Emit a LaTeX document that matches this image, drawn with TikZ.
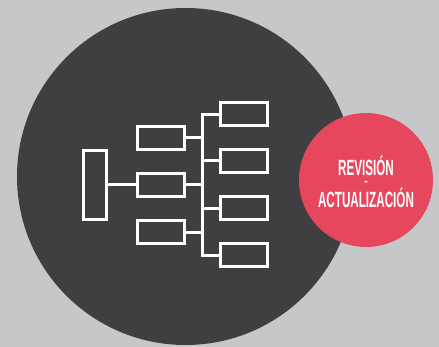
\documentclass[tikz,border=0pt]{standalone}
\usepackage{fontspec}
\setmainfont{Liberation Sans}
\usepackage{graphicx}
\definecolor{bggray}{RGB}{198,199,201}
\definecolor{darkc}{RGB}{63,62,65}
\definecolor{redc}{RGB}{230,71,92}
\begin{document}
\begin{tikzpicture}[x=1pt,y=-1pt,
  box/.style={draw=white,line width=3pt,minimum width=47pt,minimum height=23pt,inner sep=0pt,outer sep=0pt},
  conn/.style={draw=white,line width=3pt},
  lbl/.style={text=white,inner sep=0pt,align=center,font=\bfseries\fontsize{22}{22}\selectfont}]
\fill[bggray] (0,0) rectangle (439,347);
\useasboundingbox (0,0) rectangle (439,347);
\fill[darkc] (185.5,176.5) circle[radius=168.5];
% tree
\node[box,minimum width=23pt,minimum height=69pt] (L) at (95,185) {};
\node[box] (M1) at (161,138) {};
\node[box] (M2) at (161,185) {};
\node[box] (M3) at (161,232.5) {};
\node[box] (R1) at (244,114.5) {};
\node[box] (R2) at (244,161) {};
\node[box] (R3) at (244,208.5) {};
\node[box] (R4) at (244,255.5) {};
\coordinate (bus) at (202,0);
\draw[conn] (L.east) -- (M2.west);
\draw[conn] (R1.west) -- (R1.west -| bus) -- (R4.west -| bus) -- (R4.west);
\draw[conn] (R2.west) -- (R2.west -| bus);
\draw[conn] (R3.west) -- (R3.west -| bus);
\draw[conn] (M1.east) -- (M1.east -| bus);
\draw[conn] (M2.east) -- (M2.east -| bus);
\draw[conn] (M3.east) -- (M3.east -| bus);
% red circle
\fill[redc] (366,180) circle[radius=67];
\node[lbl,anchor=base] (t) at (366,207.5)
  {\scalebox{0.53}[1]{REVISIÓN}\\[-11.5pt]
   \scalebox{0.8}[1]{\fontsize{13}{13}\selectfont -}\\[-0.5pt]
   \scalebox{0.53}[1]{ACTUALIZACIÓN}};
\end{tikzpicture}
\end{document}
